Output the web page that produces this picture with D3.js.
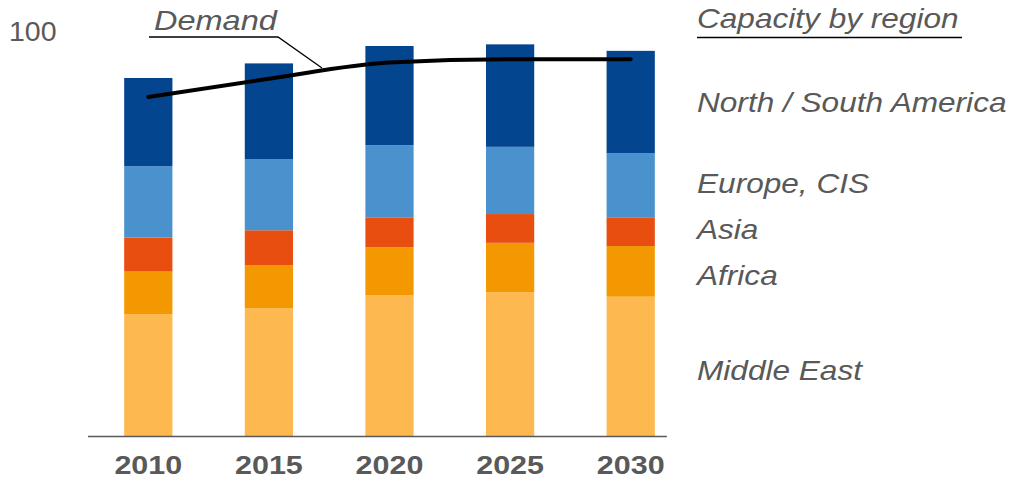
<!DOCTYPE html>
<html>
<head>
<meta charset="utf-8">
<script src="https://cdn.jsdelivr.net/npm/d3@7"></script>
<style>
  html, body { margin: 0; padding: 0; background: #ffffff; }
  svg { display: block; font-family: "Liberation Sans", Arial, sans-serif; }
</style>
</head>
<body>
<svg id="chart" width="1011" height="481"></svg>
<script>
// Years on the x axis
const years = ["2010", "2015", "2020", "2025", "2030"];

// Capacity by region, stacked bottom to top
const middleEast   = [30.1, 31.5, 34.7, 35.5, 34.4];
const africa       = [10.5, 10.7, 11.9, 12.2, 12.5];
const asia         = [8.4, 8.6, 7.4, 7.1, 7.1];
const europeCIS    = [17.6, 17.5, 17.8, 16.6, 15.8];
const americas     = [21.8, 23.7, 24.5, 25.3, 25.3];

// Demand line
const demand = [83.7, 88.2, 92.2, 93.0, 93.0];

// Y axis tick
const yTicks = [100];

const regionNames = ["Middle East", "Africa", "Asia", "Europe, CIS", "North / South America"];
const regionSeries = [middleEast, africa, asia, europeCIS, americas];
const regionColors = ["#fdb94f", "#f39800", "#e84e10", "#4a92cd", "#03468f"];

const textColor = "#595959";
const svg = d3.select("#chart");

const x = d3.scaleBand()
  .domain(years)
  .range([88, 691])
  .paddingInner(0.6)
  .paddingOuter(0.3);

const y = d3.scaleLinear().domain([0, 100]).range([436, 31]);

// Build rows for the stack layout
const rows = years.map((yr, i) => {
  const r = { year: yr };
  regionNames.forEach((n, k) => { r[n] = regionSeries[k][i]; });
  return r;
});
const stacked = d3.stack().keys(regionNames)(rows);

// Stacked bars
svg.append("g")
  .selectAll("g")
  .data(stacked)
  .join("g")
  .attr("fill", (d, i) => regionColors[i])
  .selectAll("rect")
  .data(d => d)
  .join("rect")
  .attr("x", d => x(d.data.year))
  .attr("width", x.bandwidth())
  .attr("y", d => y(d[1]))
  .attr("height", d => y(d[0]) - y(d[1]));

// Baseline
svg.append("line")
  .attr("x1", x.range()[0])
  .attr("x2", x(years[years.length - 1]) + x.bandwidth() + 12)
  .attr("y1", y(0) + 0.5)
  .attr("y2", y(0) + 0.5)
  .attr("stroke", textColor)
  .attr("stroke-width", 1.5);

// Year labels
svg.append("g")
  .selectAll("text")
  .data(years)
  .join("text")
  .attr("transform", d => `translate(${x(d) + x.bandwidth() / 2},474) scale(1.15,1)`)
  .attr("text-anchor", "middle")
  .attr("font-size", 26.5)
  .attr("font-weight", "bold")
  .attr("fill", textColor)
  .text(d => d);

// Y tick label
svg.append("g")
  .selectAll("text")
  .data(yTicks)
  .join("text")
  .attr("x", 9)
  .attr("y", d => y(d) + 10)
  .attr("font-size", 28.5)
  .attr("fill", textColor)
  .text(d => d);

// Demand line
const line = d3.line()
  .x((d, i) => x(years[i]) + x.bandwidth() / 2)
  .y(d => y(d))
  .curve(d3.curveMonotoneX);

svg.append("path")
  .datum(demand)
  .attr("d", line)
  .attr("fill", "none")
  .attr("stroke", "#000")
  .attr("stroke-width", 4)
  .attr("stroke-linecap", "round");

// Italic annotation text, slightly widened
const italic = (sel, tx, ty, str, size, sx) => sel.append("text")
  .attr("transform", `translate(${tx},${ty}) scale(${sx},1)`)
  .attr("font-size", size)
  .attr("font-style", "italic")
  .attr("fill", textColor)
  .text(str);

// Demand label with underline and leader
italic(svg, 154, 30, "Demand", 28.5, 1.14);
svg.append("polyline")
  .attr("points", "149,37 278,37 322,68")
  .attr("fill", "none")
  .attr("stroke", "#000")
  .attr("stroke-width", 1.3);

// Legend heading
italic(svg, 697, 28, "Capacity by region", 27, 1.17);
svg.append("line")
  .attr("x1", 697).attr("x2", 962)
  .attr("y1", 37.5).attr("y2", 37.5)
  .attr("stroke", "#000")
  .attr("stroke-width", 1.3);

// Region labels beside the last bar
const legendY = { "North / South America": 112, "Europe, CIS": 193, "Asia": 239, "Africa": 285, "Middle East": 380 };
regionNames.forEach(n => italic(svg, 697, legendY[n], n, 27, 1.17));
</script>
</body>
</html>
